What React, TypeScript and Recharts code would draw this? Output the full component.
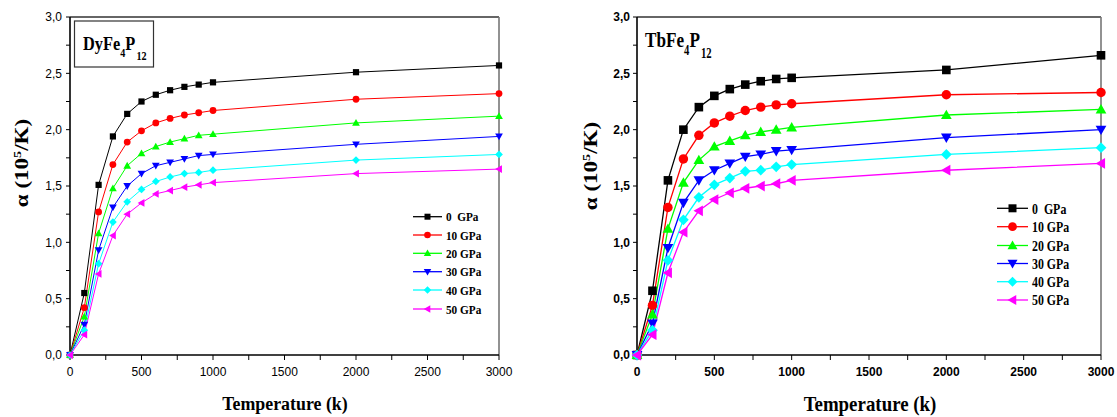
import React from 'react';
import { LineChart, Line, XAxis, YAxis, ReferenceLine, Legend } from 'recharts';

// Temperatures (K)
const temperatures = [0, 100, 200, 300, 400, 500, 600, 700, 800, 900, 1000, 2000, 3000];
const pressureLabels = ['0  GPa', '10 GPa', '20 GPa', '30 GPa', '40 GPa', '50 GPa'];

// DyFe4P12 thermal expansion alpha (10^-5 / K)
const dy0 = [0, 0.55, 1.51, 1.94, 2.14, 2.25, 2.31, 2.35, 2.38, 2.40, 2.42, 2.51, 2.57];
const dy10 = [0, 0.42, 1.27, 1.69, 1.89, 1.99, 2.06, 2.10, 2.13, 2.15, 2.17, 2.27, 2.32];
const dy20 = [0, 0.34, 1.08, 1.48, 1.68, 1.79, 1.85, 1.89, 1.92, 1.95, 1.96, 2.06, 2.12];
const dy30 = [0, 0.27, 0.93, 1.31, 1.50, 1.61, 1.68, 1.71, 1.74, 1.77, 1.78, 1.87, 1.94];
const dy40 = [0, 0.22, 0.81, 1.18, 1.36, 1.47, 1.54, 1.58, 1.61, 1.62, 1.64, 1.73, 1.78];
const dy50 = [0, 0.18, 0.72, 1.06, 1.25, 1.35, 1.43, 1.46, 1.49, 1.51, 1.53, 1.61, 1.65];

// TbFe4P12
const tb0 = [0, 0.57, 1.55, 2.00, 2.20, 2.30, 2.36, 2.40, 2.43, 2.45, 2.46, 2.53, 2.66];
const tb10 = [0, 0.44, 1.31, 1.74, 1.95, 2.06, 2.12, 2.17, 2.20, 2.22, 2.23, 2.31, 2.33];
const tb20 = [0, 0.36, 1.12, 1.53, 1.73, 1.85, 1.90, 1.95, 1.98, 2.00, 2.02, 2.13, 2.18];
const tb30 = [0, 0.28, 0.95, 1.35, 1.55, 1.64, 1.70, 1.76, 1.78, 1.81, 1.82, 1.93, 2.00];
const tb40 = [0, 0.22, 0.84, 1.20, 1.40, 1.51, 1.57, 1.63, 1.64, 1.67, 1.69, 1.78, 1.84];
const tb50 = [0, 0.18, 0.73, 1.09, 1.28, 1.38, 1.44, 1.48, 1.50, 1.52, 1.55, 1.64, 1.70];

const xTicks = [0, 250, 500, 750, 1000, 1250, 1500, 1750, 2000, 2250, 2500, 2750, 3000];
const yTicks = [0, 0.25, 0.5, 0.75, 1, 1.25, 1.5, 1.75, 2, 2.25, 2.5, 2.75, 3];

const colors = ['#000000', '#ff0000', '#00ff00', '#0000ff', '#00ffff', '#ff00ff'];
const shapes = ['square', 'circle', 'up', 'down', 'diamond', 'left'];
const keys = ['p0', 'p10', 'p20', 'p30', 'p40', 'p50'];

const buildRows = (series: number[][]) =>
  temperatures.map((t, i) => {
    const row: any = { T: t };
    series.forEach((s, k) => (row[keys[k]] = s[i]));
    return row;
  });

const dyRows = buildRows([dy0, dy10, dy20, dy30, dy40, dy50]);
const tbRows = buildRows([tb0, tb10, tb20, tb30, tb40, tb50]);

const SERIF = '"Liberation Serif", "Times New Roman", serif';
const SANS = '"Liberation Sans", Arial, sans-serif';

function markerEl(shape: string, cx: number, cy: number, r: number, color: string) {
  switch (shape) {
    case 'square':
      return <rect x={cx - r} y={cy - r} width={2 * r} height={2 * r} fill={color} />;
    case 'circle':
      return <circle cx={cx} cy={cy} r={r * 1.1} fill={color} />;
    case 'up': {
      const a = r * 1.25;
      return <polygon points={`${cx},${cy - a} ${cx - a},${cy + a * 0.75} ${cx + a},${cy + a * 0.75}`} fill={color} />;
    }
    case 'down': {
      const a = r * 1.25;
      return <polygon points={`${cx},${cy + a} ${cx - a},${cy - a * 0.75} ${cx + a},${cy - a * 0.75}`} fill={color} />;
    }
    case 'diamond': {
      const a = r * 1.25;
      return <polygon points={`${cx},${cy - a} ${cx + a},${cy} ${cx},${cy + a} ${cx - a},${cy}`} fill={color} />;
    }
    default: {
      const a = r * 1.25;
      return <polygon points={`${cx - a},${cy} ${cx + a * 0.75},${cy - a} ${cx + a * 0.75},${cy + a}`} fill={color} />;
    }
  }
}

const dotFor = (shape: string, color: string, r: number) => (p: any) => {
  const { cx, cy, index } = p;
  if (cx == null || cy == null) return <g key={`e-${shape}-${index}`} />;
  return <g key={`m-${shape}-${index}`}>{markerEl(shape, cx, cy, r, color)}</g>;
};

const fmtY = (v: number) => (Math.abs(v * 2 - Math.round(v * 2)) < 1e-6 ? v.toFixed(1).replace('.', ',') : '');
const fmtX = (v: number) => (v % 500 === 0 ? String(v) : '');

type LegendProps = { rowYs: number[]; lineW: number; r: number; fontSize: number; sx: number };
const LegendBox = ({ rowYs, lineW, r, fontSize, sx }: LegendProps) => (
  <svg width={130} height={330} style={{ overflow: 'visible', display: 'block' }}>
    {pressureLabels.map((lab, i) => {
      const y = rowYs[i];
      return (
        <g key={lab}>
          <line x1={0} x2={lineW} y1={y} y2={y} stroke={colors[i]} strokeWidth={1.3} />
          {markerEl(shapes[i], lineW / 2, y, r, colors[i])}
          <text
            transform={`translate(${lineW + 4},${y}) scale(${sx},1)`}
            dy="0.36em"
            fontFamily={SERIF}
            fontWeight="bold"
            fontSize={fontSize}
            fill="#000"
            style={{ whiteSpace: 'pre' }}
          >
            {lab}
          </text>
        </g>
      );
    })}
  </svg>
);

type PanelProps = {
  rows: any[];
  width: number;
  yAxisWidth: number;
  marginRight: number;
  bold: boolean;
  r: number;
  lineWidth: number;
  legendLeft: number;
  legendRowYs: number[];
  legendLineW: number;
  legendR: number;
  legendFont: number;
  legendSx: number;
  yTickMargin: number;
};

const Panel = (p: PanelProps) => (
  <LineChart width={p.width} height={417} data={p.rows} margin={{ top: 17, right: p.marginRight, bottom: 0, left: 0 }}>
    <XAxis
      dataKey="T"
      type="number"
      domain={[0, 3000]}
      ticks={xTicks}
      interval={0}
      tickFormatter={fmtX}
      height={62}
      tickSize={5}
      tickMargin={7}
      axisLine={{ stroke: '#000', strokeWidth: 1.6 }}
      tickLine={{ stroke: '#000', strokeWidth: 1 }}
      tick={{ fontSize: 12, fontFamily: SANS, fill: '#000', fontWeight: p.bold ? 'bold' : 'normal' }}
    />
    <YAxis
      type="number"
      domain={[0, 3]}
      ticks={yTicks}
      interval={0}
      tickFormatter={fmtY}
      width={p.yAxisWidth}
      tickSize={4}
      tickMargin={p.yTickMargin}
      axisLine={{ stroke: '#000', strokeWidth: 1.6 }}
      tickLine={{ stroke: '#000', strokeWidth: 1 }}
      tick={{ fontSize: 12, fontFamily: SANS, fill: '#000', fontWeight: p.bold ? 'bold' : 'normal' }}
    />
    <ReferenceLine y={3} stroke="#333" strokeWidth={1.3} />
    <ReferenceLine x={3000} stroke="#777" strokeWidth={1.6} />
    <Legend
      layout="horizontal"
      verticalAlign="middle"
      align="center"
      wrapperStyle={{ position: 'absolute', left: p.legendLeft, top: 0, width: 130, height: 330 }}
      content={() => (
        <LegendBox rowYs={p.legendRowYs} lineW={p.legendLineW} r={p.legendR} fontSize={p.legendFont} sx={p.legendSx} />
      )}
    />
    {keys.map((k, i) => (
      <Line
        key={k}
        dataKey={k}
        name={pressureLabels[i]}
        stroke={colors[i]}
        strokeWidth={p.lineWidth}
        dot={dotFor(shapes[i], colors[i], p.r)}
        activeDot={false}
        isAnimationActive={false}
      />
    ))}
  </LineChart>
);

const leftRows = [216.7, 235, 253.3, 271.7, 290, 309];
const rightRows = [208.3, 226.7, 245.5, 263.5, 281.7, 300];

const Formula = ({ x, y, fs, sx, head, sub1, mid, sub2 }: any) => (
  <text transform={`translate(${x},${y}) scale(${sx},1)`} fontFamily={SERIF} fontWeight="bold" fontSize={fs} fill="#000">
    {head}
    <tspan fontSize={fs * 0.62} dy={fs * 0.36}>{sub1}</tspan>
    <tspan fontSize={fs} dy={-fs * 0.36}>{mid}</tspan>
    <tspan fontSize={fs * 0.62} dy={fs * 0.5} dx={1.5}>{sub2}</tspan>
  </text>
);

const AlphaLabel = ({ x, y, fs, s }: any) => (
  <text transform={`translate(${x},${y}) rotate(-90) scale(${s},1)`} textAnchor="middle" fontFamily={SERIF} fontWeight="bold" fontSize={fs} fill="#000">
    α (10<tspan fontSize={fs * 0.62} dy={-fs * 0.4}>5</tspan>
    <tspan dy={fs * 0.4}>/K)</tspan>
  </text>
);

const XLabel = ({ x, y, fs, sx }: any) => (
  <text transform={`translate(${x},${y}) scale(${sx},1)`} textAnchor="middle" fontFamily={SERIF} fontWeight="bold" fontSize={fs} fill="#000">
    Temperature (k)
  </text>
);

export default function App() {
  return (
    <div style={{ position: 'absolute', left: 0, top: 0, width: 1117, height: 417, background: '#fff' }}>
      <div style={{ position: 'absolute', left: 0, top: 0 }}>
        <Panel
          rows={dyRows}
          width={545}
          yAxisWidth={70}
          marginRight={46}
          bold={false}
          r={3.1}
          lineWidth={1}
          legendLeft={413}
          legendRowYs={leftRows}
          legendLineW={29}
          legendR={3}
          legendFont={12.5}
          legendSx={0.9}
          yTickMargin={4}
        />
      </div>
      <div style={{ position: 'absolute', left: 560, top: 0 }}>
        <Panel
          rows={tbRows}
          width={557}
          yAxisWidth={77}
          marginRight={16}
          bold={true}
          r={4.3}
          lineWidth={1.3}
          legendLeft={997 - 560}
          legendRowYs={rightRows}
          legendLineW={31}
          legendR={4}
          legendFont={14.5}
          legendSx={0.82}
          yTickMargin={3}
        />
      </div>
      <svg width={1117} height={417} style={{ position: 'absolute', left: 0, top: 0, pointerEvents: 'none' }}>
        <rect x={74.5} y={21} width={79} height={46} fill="#fff" stroke="#333" strokeWidth={1.2} />
        <Formula x={83} y={50} fs={19} sx={0.86} head="DyFe" sub1="4" mid="P" sub2="12" />
        <Formula x={645} y={47} fs={22} sx={0.78} head="TbFe" sub1="4" mid="P" sub2="12" />
        <AlphaLabel x={28} y={163} fs={18} s={1.28} />
        <AlphaLabel x={597} y={166} fs={18} s={1.28} />
        <XLabel x={285} y={410} fs={19} sx={0.94} />
        <XLabel x={870} y={411} fs={21} sx={0.9} />
      </svg>
    </div>
  );
}
